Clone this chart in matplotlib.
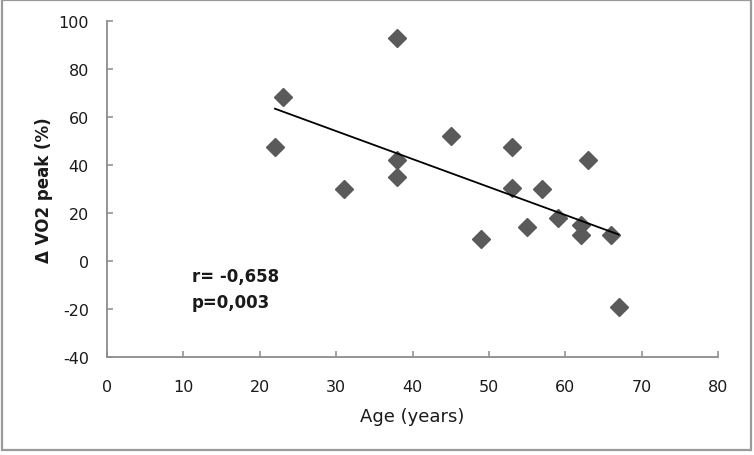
import numpy as np
import matplotlib.pyplot as plt
from matplotlib.patches import Rectangle

# Age (years) vs change in VO2 peak (%)
age = [22, 23, 31, 38, 38, 38, 45, 49, 53, 53, 55, 57, 59, 62, 62, 63, 66, 67]
dvo2 = [47.5, 68.5, 30, 93, 42, 35, 52, 9, 47.5, 30.5, 14, 30, 18, 15, 11, 42, 11, -19]
xticks = [0, 10, 20, 30, 40, 50, 60, 70, 80]
yticks = [-40, -20, 0, 20, 40, 60, 80, 100]

plt.rcParams['font.family'] = ['DejaVu Sans']
plt.rcParams['axes.unicode_minus'] = False

fig = plt.figure(figsize=(7.54, 4.56), dpi=100)
ax = fig.add_axes([107/754, 1 - 358/456, (718-107)/754, (358-22)/456])

ax.plot(age, dvo2, linestyle='none', marker='D', ms=8.8,
        color='#5a5a5a', mec='#5a5a5a')

# linear trendline
slope, icpt = np.polyfit(age, dvo2, 1)
xs = np.array([min(age), max(age)])
ax.plot(xs, slope*xs + icpt, color='black', lw=1.3)

ax.set_xlim(0, 80)
ax.set_ylim(-40, 100)
ax.set_xticks(xticks)
ax.set_yticks(yticks)
for s in ['top', 'right']:
    ax.spines[s].set_visible(False)
for s in ['left', 'bottom']:
    ax.spines[s].set_color('#8c8c8c')
    ax.spines[s].set_linewidth(1.3)
ax.tick_params(axis='both', direction='in', length=4, width=1.1,
               color='#8c8c8c', labelsize=11.5, labelcolor='#1a1a1a')
ax.tick_params(axis='y', pad=13)
ax.tick_params(axis='x', pad=16)

ax.set_xlabel('Age (years)', fontsize=13, color='#1a1a1a', labelpad=9)
ax.set_ylabel('Δ VO2 peak (%)', fontsize=12, fontweight='bold',
              color='#1a1a1a', labelpad=4)

ax.text(11.1, -6.2, 'r= -0,658', fontsize=12, fontweight='bold',
        va='center', ha='left', color='#1a1a1a')
ax.text(11.1, -17.2, 'p=0,003', fontsize=12, fontweight='bold',
        va='center', ha='left', color='#1a1a1a')

# outer frame
fig.patches.append(Rectangle((1.5/754, 1 - 451/456), 749/754, 450/456,
                             transform=fig.transFigure, fill=False,
                             edgecolor='#9a9a9a', lw=1.6))

fig.savefig('out.png', dpi=100)
